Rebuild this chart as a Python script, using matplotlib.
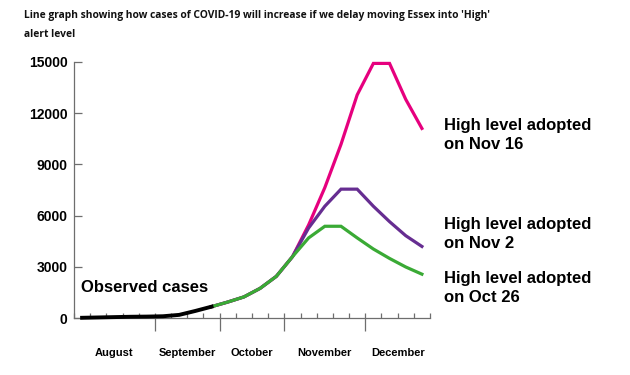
import matplotlib
matplotlib.use("Agg")
import matplotlib.pyplot as plt
import numpy as np

# weekly values, week index 0..21
observed_weeks = list(range(0, 9))
observed = [30, 50, 70, 90, 100, 120, 200, 430, 680]

proj_weeks = list(range(8, 22))
oct26 = [680, 950, 1250, 1750, 2450, 3600, 4700, 5380, 5380, 4700, 4050, 3500, 3000, 2580]
nov2 = [680, 950, 1250, 1750, 2450, 3600, 5280, 6550, 7550, 7550, 6550, 5650, 4830, 4200]
nov16 = [680, 950, 1250, 1750, 2450, 3600, 5460, 7640, 10170, 13060, 14900, 14900, 12800, 11100]

months = ["August", "September", "October", "November", "December"]
month_bounds = [-0.5, 4.5, 8.5, 12.5, 17.5, 21.5]
yticks = [0, 3000, 6000, 9000, 12000, 15000]

pink = "#e6007e"
purple = "#662d91"
green = "#3aaa35"
axis_grey = "#6e6e6e"
lw = 2.3

fig = plt.figure(figsize=(6.3, 3.75), dpi=100)
ax = fig.add_axes([74 / 630, 1 - 318.3 / 375, (430 - 74) / 630, (318.3 - 61.7) / 375])

ax.plot(proj_weeks, nov16, color=pink, lw=lw, clip_on=False, solid_joinstyle="miter", zorder=3)
ax.plot(proj_weeks, nov2, color=purple, lw=lw, clip_on=False, solid_joinstyle="miter", zorder=4)
ax.plot(proj_weeks, oct26, color=green, lw=lw, clip_on=False, solid_joinstyle="miter", zorder=5)
ax.plot(observed_weeks, observed, color="black", lw=2.8, clip_on=False, zorder=6)

ax.set_xlim(month_bounds[0], month_bounds[-1])
ax.set_ylim(0, 15000)

for s in ["top", "right"]:
    ax.spines[s].set_visible(False)
for s in ["left", "bottom"]:
    ax.spines[s].set_color(axis_grey)
    ax.spines[s].set_linewidth(0.9)

ax.set_yticks(yticks)
ax.set_yticklabels([str(v) for v in yticks], fontsize=10, fontweight="bold", family="Liberation Sans")
ax.tick_params(axis="y", direction="in", length=5.5, width=0.9, color=axis_grey, pad=4.5)

ax.set_xticks(month_bounds[1:-1])
ax.set_xticklabels([])
ax.set_xticks(np.arange(-0.5, 22, 1.0), minor=True)
ax.xaxis.remove_overlapping_locs = False
ax.tick_params(axis="x", which="major", direction="out", length=9.5, width=0.9, color=axis_grey)
ax.tick_params(axis="x", which="minor", direction="in", length=3.6, width=0.9, color=axis_grey)

for i, m in enumerate(months):
    xc = (month_bounds[i] + month_bounds[i + 1]) / 2
    ax.text(xc, -0.135, m, transform=ax.get_xaxis_transform(), ha="center", va="center",
            fontsize=8, fontweight="bold", family="Liberation Sans")

lab = dict(fontsize=12, fontweight="bold", family="Liberation Sans", va="center", ha="left",
           linespacing=1.3)
fig.text(444 / 630, 1 - 135 / 375, "High level adopted\non Nov 16", **lab)
fig.text(444 / 630, 1 - 234 / 375, "High level adopted\non Nov 2", **lab)
fig.text(444 / 630, 1 - 288 / 375, "High level adopted\non Oct 26", **lab)
fig.text(80.7 / 630, 1 - 287 / 375, "Observed cases", **lab)

fig.text(24 / 630, 1 - 25 / 375,
         "Line graph showing how cases of COVID-19 will increase if we delay moving Essex into 'High'\nalert level",
         fontsize=7.4, fontweight="bold", family="Open Sans", va="center", ha="left",
         color="#111111", linespacing=2.0)

fig.savefig("out.png", dpi=100)
